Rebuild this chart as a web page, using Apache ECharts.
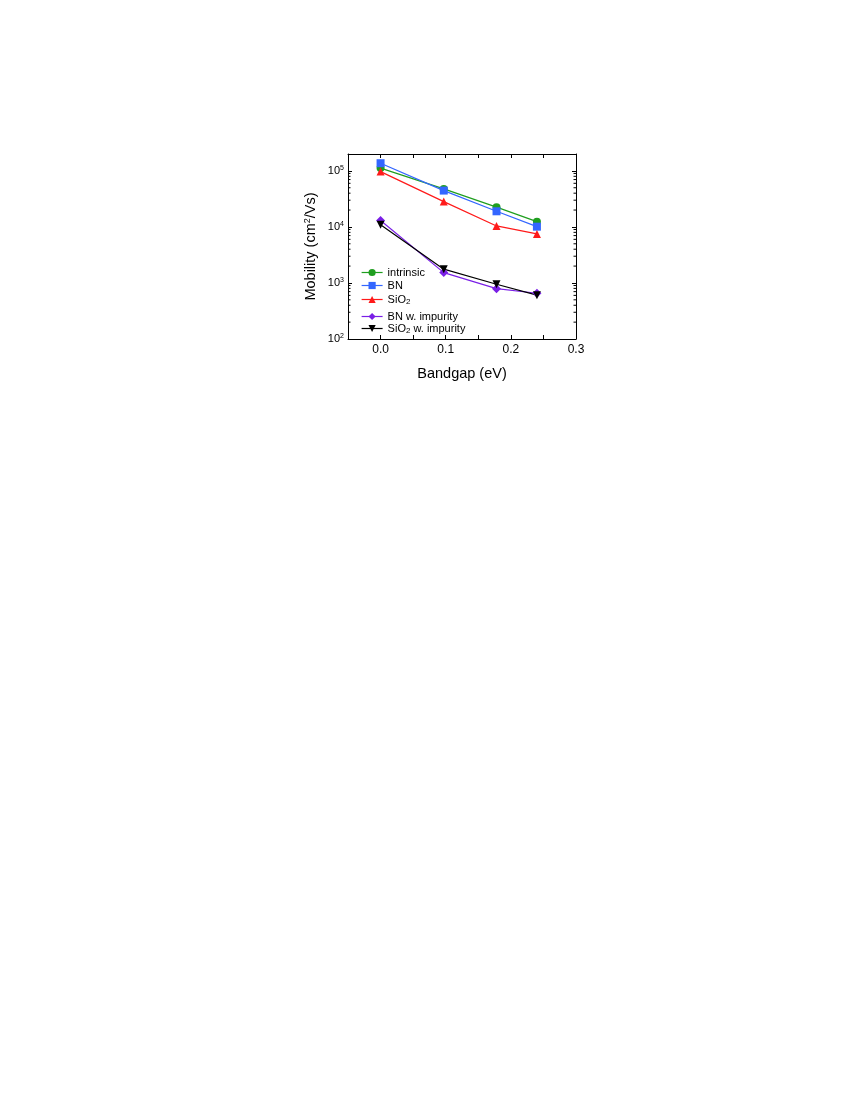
<!DOCTYPE html>
<html>
<head>
<meta charset="utf-8">
<script src="https://cdn.jsdelivr.net/npm/echarts@6/dist/echarts.min.js"></script>
<style>
  html, body { margin: 0; padding: 0; background: #fff; }
  #main { width: 850px; height: 1100px; }
</style>
</head>
<body>
<div id="main"></div>
<script>
// bandgap values (eV)
var bandgap = [0.0, 0.097, 0.178, 0.24];
// mobility (cm^2/Vs)
var intrinsic = [112000, 47700, 22500, 12400];
var bn = [137000, 44500, 19000, 10100];
var sio2 = [97000, 28300, 10400, 7500];
var bnImpurity = [13000, 1530, 790, 655];
var sio2Impurity = [10900, 1760, 950, 605];
var xTicks = [0.0, 0.1, 0.2, 0.3];
// minor ticks of the log axis
var yMinorTicks = [200, 300, 400, 500, 600, 700, 800, 900,
    2000, 3000, 4000, 5000, 6000, 7000, 8000, 9000,
    20000, 30000, 40000, 50000, 60000, 70000, 80000, 90000];

var xMin = -0.05, xMax = 0.3;
var yMin = 100, yMax = 200000;

var myChart = echarts.init(document.getElementById('main'));

function pairs(ys) {
    return bandgap.map(function (x, i) { return [x, ys[i]]; });
}

function mkSeries(name, ys, color, symbol, rotate) {
    return {
        name: name,
        type: 'line',
        data: pairs(ys),
        symbol: symbol,
        symbolSize: symbol === 'diamond' ? 9 : 8,
        symbolRotate: rotate || 0,
        lineStyle: { color: color, width: 1.2 },
        itemStyle: { color: color },
        emphasis: { disabled: true },
        z: 3
    };
}

var font = 'Liberation Sans, Arial, sans-serif';
var subRich = {
    n: { fontFamily: font, fontSize: 11, color: '#000', lineHeight: 13 },
    sub: { fontFamily: font, fontSize: 8, color: '#000', lineHeight: 13, verticalAlign: 'bottom', padding: [5, 0, 0, 0] }
};

function legendFmt(name) {
    if (name.indexOf('SiO2') === 0) {
        return '{n|SiO}{sub|2}{n|' + name.slice(4) + '}';
    }
    return '{n|' + name + '}';
}

var legendNames = ['intrinsic', 'BN', 'SiO2', 'BN w. impurity', 'SiO2 w. impurity'];
var legendTops = [267, 280, 293, 311, 322];

var legends = legendNames.map(function (n, i) {
    return {
        data: [n],
        left: 361, top: legendTops[i],
        padding: 0,
        itemWidth: 21, itemHeight: 9, itemGap: 4,
        lineStyle: { width: 1.2 },
        formatter: legendFmt,
        textStyle: { rich: subRich, fontFamily: font, fontSize: 11 }
    };
});

function tickAxisY(pos) {
    return {
        type: 'log',
        logBase: 10,
        min: yMin, max: yMax,
        position: pos,
        axisLine: { show: true, onZero: false, lineStyle: { color: '#000', width: 1 } },
        axisTick: { show: true, inside: true, length: 4, lineStyle: { color: '#000' } },
        splitLine: { show: false }
    };
}

var yLeft = tickAxisY('left');
yLeft.name = 'Mobility (cm{sup|2}/Vs)';
yLeft.nameLocation = 'middle';
yLeft.nameGap = 30;
yLeft.nameTextStyle = {
    fontFamily: font, fontSize: 14.5, color: '#000',
    rich: { sup: { fontFamily: font, fontSize: 9, color: '#000', verticalAlign: 'top', padding: [0, 0, 6, 0] } }
};
yLeft.axisLabel = {
    fontFamily: font, fontSize: 11, color: '#000', margin: 4,
    formatter: function (v) {
        var e = Math.round(Math.log(v) / Math.LN10);
        if (Math.abs(Math.pow(10, e) - v) > 1e-6 * v) return '';
        return '10{sup|' + e + '}';
    },
    rich: { sup: { fontFamily: font, fontSize: 7, color: '#000', verticalAlign: 'top', padding: [0, 0, 6, 0] } }
};
var yRight = tickAxisY('right');
yRight.axisLabel = { show: false };

var option = {
    backgroundColor: '#fff',
    animation: false,
    grid: { left: 348, top: 154, width: 228, height: 185, containLabel: false },
    legend: legends,
    xAxis: [{
        type: 'value',
        min: xMin, max: xMax, interval: 0.05,
        name: 'Bandgap (eV)',
        nameLocation: 'middle',
        nameGap: 27,
        nameTextStyle: { fontFamily: font, fontSize: 14.5, color: '#000' },
        axisLine: { show: true, onZero: false, lineStyle: { color: '#000', width: 1 } },
        axisTick: { show: true, inside: true, length: 4, lineStyle: { color: '#000' } },
        axisLabel: {
            fontFamily: font, fontSize: 12, color: '#000', margin: 5,
            formatter: function (v) {
                for (var i = 0; i < xTicks.length; i++) {
                    if (Math.abs(v - xTicks[i]) < 1e-6) return xTicks[i].toFixed(1);
                }
                return '';
            }
        },
        splitLine: { show: false }
    }, {
        type: 'value',
        position: 'top',
        min: xMin, max: xMax, interval: 0.05,
        axisLine: { show: true, onZero: false, lineStyle: { color: '#000', width: 1 } },
        axisTick: { show: true, inside: true, length: 4, lineStyle: { color: '#000' } },
        axisLabel: { show: false },
        splitLine: { show: false }
    }],
    yAxis: [yLeft, yRight],
    series: [
        mkSeries('intrinsic', intrinsic, '#1f9e1f', 'circle'),
        mkSeries('BN', bn, '#3366ff', 'rect'),
        mkSeries('SiO2', sio2, '#ff1a1a', 'triangle'),
        mkSeries('BN w. impurity', bnImpurity, '#7a1fe6', 'diamond'),
        mkSeries('SiO2 w. impurity', sio2Impurity, '#000000', 'triangle', 180),
        {
            // log-spaced minor ticks on left and right frame
            type: 'custom',
            silent: true,
            clip: false,
            data: yMinorTicks.map(function (v) { return [xMin, v]; }),
            renderItem: function (params, api) {
                var v = api.value(1);
                var l = api.coord([xMin, v]);
                var r = api.coord([xMax, v]);
                var st = { stroke: '#000', lineWidth: 1 };
                return {
                    type: 'group',
                    children: [
                        { type: 'line', shape: { x1: l[0], y1: l[1], x2: l[0] + 2.5, y2: l[1] }, style: st },
                        { type: 'line', shape: { x1: r[0] - 2.5, y1: r[1], x2: r[0], y2: r[1] }, style: st }
                    ]
                };
            },
            z: 1
        }
    ]
};

myChart.setOption(option);
</script>
</body>
</html>
